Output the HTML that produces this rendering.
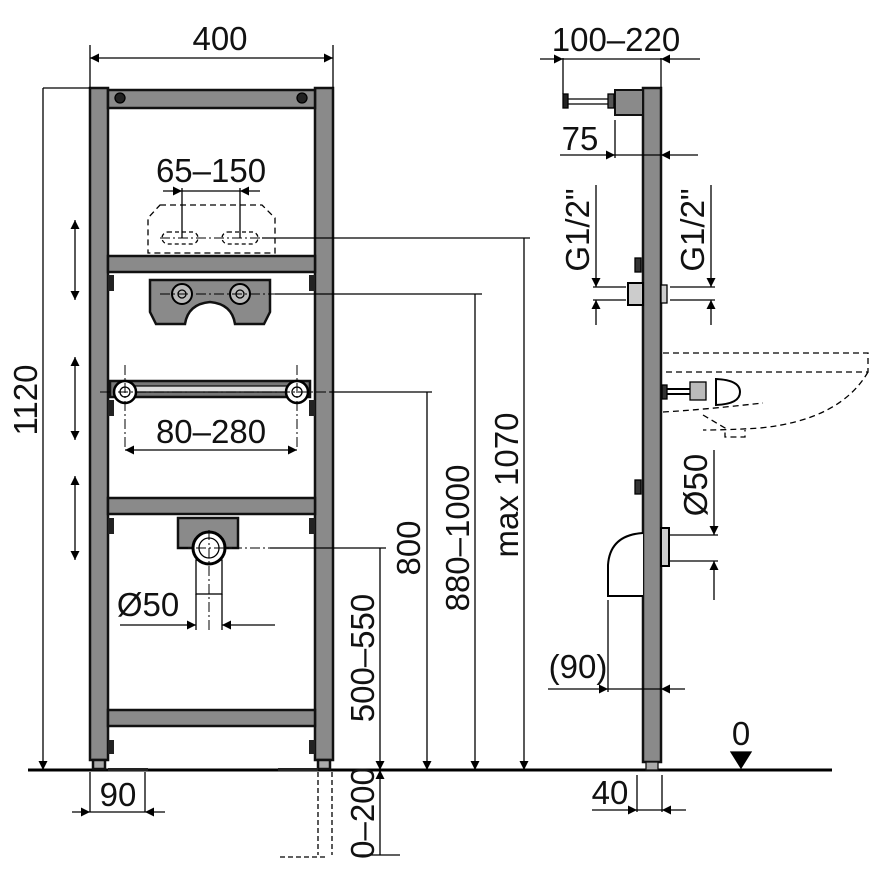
<!DOCTYPE html>
<html><head><meta charset="utf-8"><style>
html,body{margin:0;padding:0;background:#fff;}
svg{display:block;}
text{font-family:"Liberation Sans",sans-serif;font-size:33px;fill:#111;}
</style></head><body>
<svg width="877" height="877" viewBox="0 0 877 877" xmlns="http://www.w3.org/2000/svg">
<defs>
<marker id="a" viewBox="0 0 10 10" refX="10" refY="5" markerWidth="13" markerHeight="9" orient="auto-start-reverse" markerUnits="userSpaceOnUse"><path d="M0,0 L10,5 L0,10z" fill="#000"/></marker>
</defs>
<g stroke="#000" stroke-width="1.3" fill="none">
<line x1="28" y1="770" x2="832" y2="770" stroke-width="3"/>
<g fill="#8a8a8a" stroke="#111" stroke-width="2.5">
<rect x="90" y="88" width="18" height="672"/>
<rect x="315" y="88" width="18" height="672"/>
<rect x="108" y="90" width="207" height="18"/>
<rect x="108" y="256" width="207" height="16"/>
<rect x="108" y="498" width="207" height="16"/>
<rect x="108" y="710" width="207" height="16"/>
<rect x="110" y="381" width="200" height="16" fill="#777"/>
<path d="M150,280 H270 V312 L264,324 H235 Q232,304 210,302 Q188,304 185,324 H156 L150,312z"/>
<rect x="178" y="518" width="60" height="30"/>
<rect x="93" y="760" width="12" height="9" fill="#aaa"/>
<rect x="318" y="760" width="12" height="9" fill="#aaa"/>
</g>
<rect x="130" y="386" width="160" height="6" fill="#ddd" stroke="#111"/>
<circle cx="120" cy="98" r="5" fill="#222"/><circle cx="302" cy="98" r="5" fill="#222"/>
<circle cx="125" cy="392" r="11" fill="#fff" stroke-width="2.5"/><circle cx="125" cy="392" r="5"/>
<circle cx="297" cy="392" r="11" fill="#fff" stroke-width="2.5"/><circle cx="297" cy="392" r="5"/>
<circle cx="182" cy="294" r="10" fill="#bbb" stroke-width="2"/><circle cx="182" cy="294" r="4"/>
<circle cx="240" cy="294" r="10" fill="#bbb" stroke-width="2"/><circle cx="240" cy="294" r="4"/>
<rect x="196" y="560" width="26" height="34" fill="#fff"/>
<circle cx="209" cy="548" r="16" fill="#fff" stroke-width="3"/><circle cx="209" cy="548" r="10"/>
<g fill="#222" stroke="none">
<rect x="108" y="275" width="6" height="16"/><rect x="309" y="275" width="6" height="16"/>
<rect x="108" y="400" width="6" height="16"/><rect x="309" y="400" width="6" height="16"/>
<rect x="108" y="518" width="6" height="16"/><rect x="309" y="518" width="6" height="16"/>
<rect x="108" y="740" width="6" height="14"/><rect x="309" y="740" width="6" height="14"/>
<rect x="108" y="768" width="40" height="3"/><rect x="278" y="768" width="40" height="3"/>
</g>
<path d="M160,205 H262 L275,218 V253 H148 V218z" stroke-dasharray="6,4"/>
<g stroke-dasharray="4,3"><rect x="162" y="232" width="36" height="12" rx="6"/><rect x="222" y="232" width="36" height="12" rx="6"/></g>
<g stroke-dasharray="10,3,2,3" stroke-width="1">
<line x1="160" y1="238" x2="262" y2="238"/><line x1="160" y1="294" x2="275" y2="294"/>
<line x1="100" y1="392" x2="330" y2="392"/><line x1="178" y1="548" x2="270" y2="548"/>
<line x1="209" y1="530" x2="209" y2="630"/>
<line x1="125" y1="365" x2="125" y2="450"/><line x1="297" y1="365" x2="297" y2="450"/>
</g>
<line x1="262" y1="238" x2="530" y2="238"/>
<line x1="275" y1="294" x2="482" y2="294"/>
<line x1="330" y1="392" x2="432" y2="392"/>
<line x1="270" y1="548" x2="386" y2="548"/>
<line x1="43" y1="88" x2="43" y2="770" marker-end="url(#a)"/>
<line x1="43" y1="88" x2="90" y2="88"/>
<line x1="380" y1="548" x2="380" y2="770" marker-end="url(#a)"/>
<line x1="380" y1="770" x2="380" y2="855" marker-start="url(#a)"/>
<line x1="427" y1="392" x2="427" y2="770" marker-end="url(#a)"/>
<line x1="475" y1="294" x2="475" y2="770" marker-end="url(#a)"/>
<line x1="524" y1="238" x2="524" y2="770" marker-end="url(#a)"/>
<line x1="355" y1="855" x2="400" y2="855"/>
<path d="M280,857 H325" stroke-dasharray="5,3"/>
<g stroke-dasharray="5,3"><line x1="318" y1="772" x2="318" y2="855"/><line x1="332" y1="772" x2="332" y2="855"/></g>
<line x1="75" y1="220" x2="75" y2="300" marker-start="url(#a)" marker-end="url(#a)"/>
<line x1="75" y1="357" x2="75" y2="440" marker-start="url(#a)" marker-end="url(#a)"/>
<line x1="75" y1="476" x2="75" y2="560" marker-start="url(#a)" marker-end="url(#a)"/>
<line x1="90" y1="45" x2="90" y2="88"/><line x1="333" y1="45" x2="333" y2="88"/>
<line x1="90" y1="58" x2="333" y2="58" marker-start="url(#a)" marker-end="url(#a)"/>
<line x1="182" y1="188" x2="182" y2="238"/><line x1="240" y1="188" x2="240" y2="238"/>
<line x1="163" y1="191" x2="182" y2="191" marker-end="url(#a)"/><line x1="260" y1="191" x2="240" y2="191" marker-end="url(#a)"/>
<line x1="182" y1="191" x2="240" y2="191"/>
<line x1="125" y1="450" x2="297" y2="450" marker-start="url(#a)" marker-end="url(#a)"/>
<line x1="196" y1="594" x2="196" y2="630"/><line x1="222" y1="594" x2="222" y2="630"/>
<line x1="120" y1="625" x2="196" y2="625" marker-end="url(#a)"/><line x1="275" y1="625" x2="222" y2="625" marker-end="url(#a)"/>
<line x1="90" y1="772" x2="90" y2="812"/><line x1="145" y1="772" x2="145" y2="812"/>
<line x1="72" y1="812" x2="90" y2="812" marker-end="url(#a)"/><line x1="165" y1="812" x2="145" y2="812" marker-end="url(#a)"/>
<line x1="90" y1="812" x2="145" y2="812"/>
<rect x="643" y="88" width="18" height="674" fill="#8a8a8a" stroke="#111" stroke-width="2.5"/>
<rect x="646" y="762" width="12" height="8" fill="#aaa" stroke="#111"/>
<rect x="615" y="90" width="28" height="25" fill="#8a8a8a" stroke="#111" stroke-width="2"/>
<line x1="568" y1="99" x2="615" y2="99"/><line x1="568" y1="104" x2="615" y2="104"/>
<rect x="563" y="94" width="5" height="14" fill="#222"/>
<rect x="608" y="94" width="6" height="14" fill="#555"/>
<line x1="563" y1="58" x2="563" y2="94"/><line x1="661" y1="58" x2="661" y2="88"/>
<line x1="540" y1="59" x2="563" y2="59" marker-end="url(#a)"/><line x1="700" y1="59" x2="661" y2="59" marker-end="url(#a)"/>
<line x1="563" y1="59" x2="661" y2="59"/>
<line x1="615" y1="120" x2="615" y2="158"/>
<line x1="560" y1="155" x2="615" y2="155" marker-end="url(#a)"/><line x1="698" y1="155" x2="661" y2="155" marker-end="url(#a)"/>
<line x1="615" y1="155" x2="661" y2="155"/>
<rect x="628" y="283" width="15" height="22" fill="#ccc" stroke-width="2"/>
<rect x="661" y="285" width="6" height="18" fill="#ccc"/>
<rect x="635" y="258" width="6" height="14" fill="#333"/>
<line x1="596" y1="185" x2="596" y2="287" marker-end="url(#a)"/><line x1="596" y1="325" x2="596" y2="300" marker-end="url(#a)"/>
<line x1="711" y1="185" x2="711" y2="287" marker-end="url(#a)"/><line x1="711" y1="325" x2="711" y2="300" marker-end="url(#a)"/>
<line x1="593" y1="287" x2="626" y2="287"/><line x1="593" y1="300" x2="626" y2="300"/>
<line x1="670" y1="287" x2="715" y2="287"/><line x1="670" y1="300" x2="715" y2="300"/>
<g stroke-dasharray="6,4">
<path d="M663,353 H868 V372 H663"/>
<path d="M868,372 Q840,420 760,428 Q730,430 703,430"/>
<path d="M663,412 Q700,410 763,403"/>
<path d="M703,415 L725,428 V437 H745 V430"/>
</g>
<line x1="663" y1="389" x2="695" y2="389" stroke-width="2"/><line x1="663" y1="394" x2="695" y2="394" stroke-width="2"/>
<rect x="662" y="385" width="5" height="14" fill="#333"/>
<rect x="690" y="382" width="16" height="18" fill="#bbb"/>
<path d="M716,379 Q740,380 740,392 Q740,404 716,405z" fill="#fff" stroke-width="2"/>
<rect x="661" y="528" width="8" height="38" fill="#ccc" stroke-width="2"/>
<rect x="635" y="480" width="6" height="14" fill="#333"/>
<path d="M643,533 Q610,535 608,565 V596 H643" fill="#fff" stroke-width="2"/>
<line x1="670" y1="535" x2="718" y2="535"/><line x1="670" y1="561" x2="718" y2="561"/>
<line x1="714" y1="450" x2="714" y2="535" marker-end="url(#a)"/><line x1="714" y1="600" x2="714" y2="561" marker-end="url(#a)"/>
<line x1="608" y1="600" x2="608" y2="692"/>
<line x1="548" y1="689" x2="608" y2="689" marker-end="url(#a)"/><line x1="685" y1="689" x2="661" y2="689" marker-end="url(#a)"/>
<line x1="608" y1="689" x2="661" y2="689"/>
<line x1="637" y1="775" x2="637" y2="812"/><line x1="662" y1="775" x2="662" y2="812"/>
<line x1="592" y1="810" x2="637" y2="810" marker-end="url(#a)"/><line x1="686" y1="810" x2="662" y2="810" marker-end="url(#a)"/>
<line x1="637" y1="810" x2="662" y2="810"/>
<path d="M731,752 H751 L741,768z" fill="#000"/>
</g>
<text x="220" y="50" text-anchor="middle">400</text>
<text x="211" y="182" text-anchor="middle">65–150</text>
<text x="211" y="443" text-anchor="middle">80–280</text>
<text x="148" y="616" text-anchor="middle">Ø50</text>
<text x="118" y="806" text-anchor="middle">90</text>
<text transform="translate(37,400) rotate(-90)" text-anchor="middle">1120</text>
<text transform="translate(374,658) rotate(-90)" text-anchor="middle">500–550</text>
<text transform="translate(374,813) rotate(-90)" text-anchor="middle">0–200</text>
<text transform="translate(420,548) rotate(-90)" text-anchor="middle">800</text>
<text transform="translate(469,538) rotate(-90)" text-anchor="middle">880–1000</text>
<text transform="translate(518,485) rotate(-90)" text-anchor="middle">max 1070</text>
<text x="616" y="51" text-anchor="middle">100–220</text>
<text x="580" y="150" text-anchor="middle">75</text>
<text transform="translate(589,230) rotate(-90)" text-anchor="middle">G1/2"</text>
<text transform="translate(704,230) rotate(-90)" text-anchor="middle">G1/2"</text>
<text transform="translate(707,485) rotate(-90)" text-anchor="middle">Ø50</text>
<text x="578" y="678" text-anchor="middle">(90)</text>
<text x="610" y="804" text-anchor="middle">40</text>
<text x="741" y="745" text-anchor="middle">0</text>
</svg>
</body></html>
